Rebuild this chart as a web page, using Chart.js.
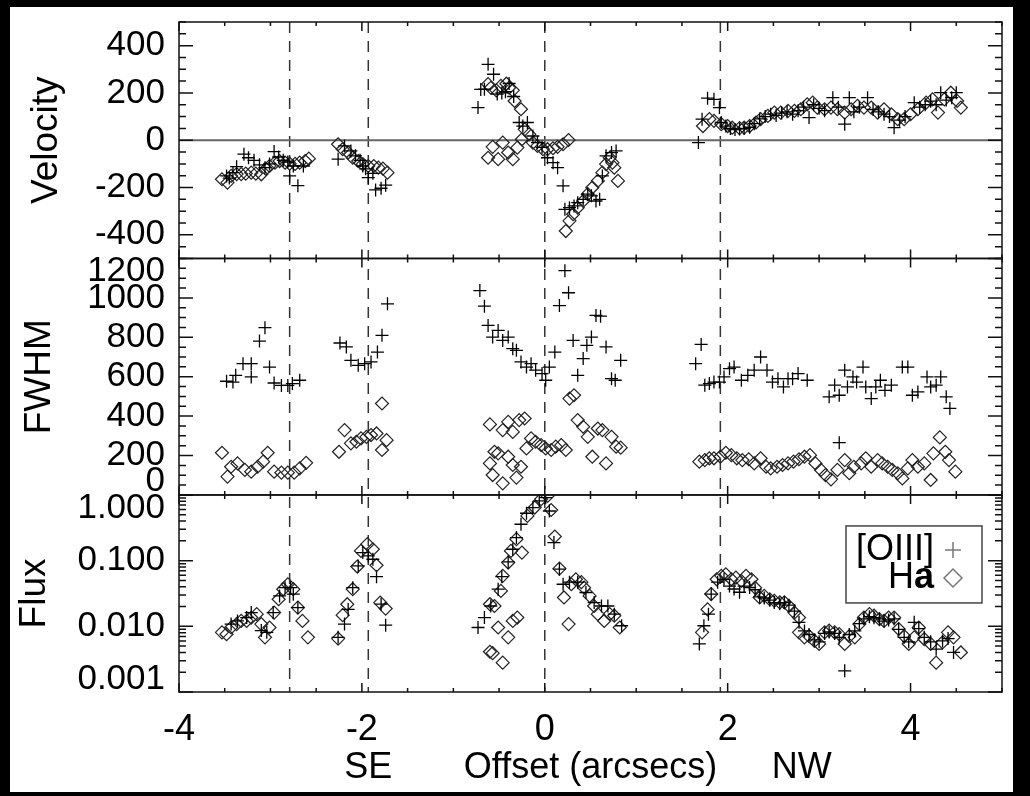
<!DOCTYPE html>
<html>
<head>
<meta charset="utf-8">
<script src="https://cdn.jsdelivr.net/npm/chart.js@4.4.1/dist/chart.umd.min.js"></script>
<style>
  html, body { margin: 0; padding: 0; background: #000; }
  #wrap { position: absolute; left: 10px; top: 7px; width: 1003px; height: 785px; background: #fff; }
</style>
</head>
<body>
<div id="wrap"><canvas id="c" width="1003" height="785"></canvas></div>
<script>
// [offset, value] pairs

// velocity, [OIII]
const velOiii = [
  [-3.48,-151],[-3.45,-160],[-3.41,-137],[-3.37,-112],[-3.29,-59],[-3.24,-74],[-3.18,-85],[-3.12,-104],
  [-3.06,-116],[-3.01,-100],[-2.96,-48],[-2.91,-71],[-2.86,-85],[-2.81,-92],[-2.79,-151],[-2.75,-109],
  [-2.70,-192],[-2.64,-109],
  [-2.26,-80],[-2.19,-24],[-2.12,-45],[-2.07,-66],[-2.02,-85],[-1.99,-109],[-1.96,-121],[-1.93,-158],
  [-1.88,-140],[-1.85,-210],[-1.79,-203],[-1.74,-190],
  [-0.73,138],[-0.70,215],[-0.66,216],[-0.62,321],[-0.56,279],[-0.52,195],[-0.47,200],[-0.43,205],
  [-0.39,240],[-0.34,185],[-0.28,75],[-0.24,60],[-0.19,75],[-0.13,18],[-0.08,-10],[-0.03,-30],
  [0.03,-74],[0.09,-95],[0.14,-116],[0.20,-193],
  [0.22,-292],[0.27,-285],[0.32,-278],[0.36,-264],[0.42,-250],[0.47,-228],[0.51,-235],[0.56,-257],
  [0.60,-250],[0.63,-151],[0.67,-66],[0.73,-52],[0.78,-45],
  [1.68,-10],[1.72,89],[1.78,178],[1.85,173],[1.91,138],[1.93,75],[1.98,60],[2.03,50],[2.08,45],
  [2.13,48],[2.18,50],[2.24,55],[2.29,70],[2.35,90],[2.41,100],[2.47,110],[2.53,105],[2.59,115],
  [2.65,120],[2.71,110],[2.77,125],[2.83,140],[2.89,96],[2.94,150],[3.00,135],[3.06,125],[3.15,180],
  [3.21,140],[3.28,68],[3.33,180],[3.38,120],[3.44,140],[3.53,180],[3.59,130],[3.65,120],[3.71,110],
  [3.77,100],[3.82,53],[3.88,85],[3.94,100],[4.04,159],[4.10,140],[4.16,150],[4.22,165],[4.28,150],
  [4.33,201],[4.39,170],[4.45,180],[4.50,201]
];

// velocity, Ha (main component)
const velHa = [
  [-3.53,-165],[-3.47,-179],[-3.43,-151],[-3.37,-143],[-3.32,-143],[-3.27,-141],[-3.21,-137],[-3.16,-141],
  [-3.10,-144],[-3.05,-121],[-3.01,-109],[-2.95,-95],[-2.90,-88],[-2.84,-95],[-2.79,-99],[-2.73,-100],
  [-2.68,-95],[-2.62,-88],[-2.58,-78],
  [-2.26,-17],[-2.21,-38],[-2.15,-52],[-2.10,-74],[-2.04,-88],[-1.99,-101],[-1.93,-109],[-1.87,-109],
  [-1.82,-116],[-1.77,-120],[-1.72,-137],
  [-0.62,237],[-0.59,222],[-0.53,211],[-0.48,230],[-0.42,239],[-0.39,222],[-0.35,211],[-0.33,166],
  [-0.26,131],[-0.22,46],[-0.17,25],[-0.13,-10],[-0.08,-24],[-0.02,-38],[0.03,-38],[0.09,-34],
  [0.14,-28],[0.20,-17],[0.26,1],
  [0.23,-384],[0.27,-341],[0.31,-313],[0.36,-285],[0.42,-257],[0.47,-228],[0.52,-200],[0.58,-172],
  [0.63,-137],[0.67,-101],[0.71,-74],[0.74,-95],[0.76,-116],[0.80,-172],
  [1.73,60],[1.80,89],[1.85,82],[1.93,68],[2.00,60],[2.05,53],[2.13,51],[2.18,53],[2.24,60],[2.31,75],
  [2.36,89],[2.44,103],[2.51,117],[2.58,117],[2.66,124],[2.73,124],[2.80,131],[2.87,152],[2.93,159],
  [2.98,138],[3.06,131],[3.13,138],[3.20,131],[3.28,117],[3.35,131],[3.42,145],[3.49,138],[3.57,138],
  [3.64,117],[3.71,131],[3.79,110],[3.86,89],[3.93,89],[4.00,110],[4.08,131],[4.17,159],[4.24,173],
  [4.30,117],[4.37,173],[4.44,201],[4.51,166],[4.55,138]
];

// velocity, Ha (second component near the nucleus)
const velHa2 = [
  [-0.62,-74],[-0.57,-28],[-0.51,-80],[-0.46,-10],[-0.40,-52],[-0.35,-80],[-0.30,-31],[-0.25,4]
];

// FWHM, [OIII]
const fwhmOiii = [
  [-3.48,577],[-3.41,573],[-3.38,607],[-3.30,666],[-3.21,666],[-3.21,599],[-3.12,781],[-3.06,849],
  [-3.01,649],[-2.96,568],[-2.88,556],[-2.81,556],[-2.76,565],[-2.68,582],
  [-2.24,771],[-2.17,751],[-2.12,683],[-2.04,658],[-1.97,666],[-1.90,675],[-1.83,725],[-1.78,810],
  [-1.72,970],
  [-0.71,1037],[-0.66,958],[-0.62,860],[-0.57,801],[-0.51,835],[-0.46,784],[-0.40,801],[-0.35,742],
  [-0.31,734],[-0.26,675],[-0.20,649],[-0.15,666],[-0.10,633],[-0.03,616],[0.01,582],[0.05,649],
  [0.11,725],[0.16,961],[0.22,1138],[0.26,1026],[0.31,784],[0.36,607],[0.42,692],[0.46,759],
  [0.51,801],[0.56,911],[0.61,907],[0.67,751],[0.73,590],[0.77,582],[0.83,683],
  [1.65,666],[1.71,764],[1.75,557],[1.80,565],[1.85,573],[1.91,573],[1.96,599],[2.02,641],[2.07,649],
  [2.15,582],[2.22,607],[2.29,633],[2.36,700],[2.43,633],[2.49,573],[2.55,590],[2.61,548],[2.66,590],
  [2.71,590],[2.77,616],[2.87,582],[3.11,498],[3.17,557],[3.22,506],[3.22,265],[3.28,633],[3.31,548],
  [3.37,599],[3.41,573],[3.48,649],[3.51,548],[3.57,489],[3.62,548],[3.67,582],[3.72,531],[3.79,557],
  [3.91,649],[3.97,649],[4.02,506],[4.08,523],[4.18,599],[4.22,548],[4.28,557],[4.33,599],[4.39,498],
  [4.43,439]
];

// FWHM, Ha
const fwhmHa = [
  [-3.53,214],[-3.47,93],[-3.43,143],[-3.36,160],[-3.28,127],[-3.21,118],[-3.14,143],[-3.08,169],
  [-3.03,214],[-2.96,118],[-2.88,113],[-2.81,113],[-2.74,113],[-2.68,135],[-2.61,163],
  [-2.25,219],[-2.19,329],[-2.12,262],[-2.06,270],[-2.01,287],[-1.95,295],[-1.90,304],[-1.84,312],
  [-1.78,464],[-1.78,228],[-1.73,278],
  [-0.60,358],[-0.55,219],[-0.51,211],[-0.60,160],[-0.57,101],[-0.46,59],[-0.46,329],[-0.40,371],
  [-0.35,320],[-0.40,194],[-0.35,152],[-0.31,88],[-0.26,143],[-0.28,380],[-0.22,388],[-0.20,236],
  [-0.15,287],[-0.10,270],[-0.04,253],[0.01,236],[0.07,228],[0.12,245],[0.18,253],[0.23,228],
  [0.27,489],[0.32,506],[0.36,380],[0.42,346],[0.47,295],[0.52,194],[0.58,337],[0.63,329],
  [0.67,160],[0.73,295],[0.78,245],[0.83,240],
  [1.69,169],[1.75,177],[1.80,186],[1.85,186],[1.92,194],[1.98,214],[2.04,202],[2.10,186],[2.16,177],
  [2.23,181],[2.29,160],[2.36,186],[2.42,143],[2.47,135],[2.54,143],[2.60,152],[2.66,160],[2.72,169],
  [2.78,181],[2.84,194],[2.90,202],[2.96,160],[3.02,127],[3.07,101],[3.13,79],[3.20,127],[3.28,177],
  [3.33,110],[3.38,143],[3.46,160],[3.51,186],[3.57,143],[3.64,177],[3.69,160],[3.75,143],[3.80,127],
  [3.86,110],[3.91,84],[3.97,135],[4.02,177],[4.08,143],[4.15,160],[4.22,76],[4.25,211],[4.32,292],
  [4.38,219],[4.42,177],[4.49,118]
];

// normalised flux, [OIII]
const fluxOiii = [
  [-3.43,0.0108],[-3.36,0.0121],[-3.26,0.0136],[-3.21,0.0162],[-3.10,0.0086],[-3.04,0.0081],
  [-2.97,0.0162],[-2.90,0.029],[-2.84,0.0387],[-2.78,0.0387],[-2.75,0.0308],[-2.70,0.0193],
  [-2.26,0.0068],[-2.19,0.0108],[-2.15,0.0181],[-2.10,0.0387],[-2.04,0.083],[-1.99,0.1325],
  [-1.93,0.118],[-1.88,0.105],[-1.84,0.057],[-1.79,0.0217],[-1.74,0.0104],
  [-0.73,0.0096],[-0.66,0.0136],[-0.59,0.0204],[-0.51,0.0367],[-0.47,0.057],[-0.40,0.0955],
  [-0.35,0.149],[-0.31,0.224],[-0.26,0.358],[-0.20,0.526],[-0.13,0.643],[-0.06,0.81],[0.01,0.91],
  [0.05,0.57],[0.10,0.188],[0.16,0.074],[0.20,0.0437],[0.27,0.047],[0.36,0.047],[0.45,0.0327],
  [0.54,0.023],[0.62,0.0204],[0.69,0.0204],[0.76,0.0153],[0.84,0.0102],
  [1.69,0.0054],[1.74,0.0102],[1.79,0.0153],[1.82,0.031],[1.89,0.047],[1.96,0.052],[2.02,0.041],
  [2.07,0.037],[2.13,0.033],[2.18,0.041],[2.24,0.039],[2.30,0.036],[2.35,0.028],[2.40,0.027],
  [2.46,0.025],[2.51,0.023],[2.57,0.022],[2.62,0.023],[2.67,0.021],[2.73,0.017],[2.78,0.0115],
  [2.84,0.0085],[2.89,0.0075],[2.95,0.0062],[3.00,0.0058],[3.06,0.0078],[3.11,0.0082],[3.17,0.0078],
  [3.22,0.0068],[3.28,0.0021],[3.33,0.0075],[3.39,0.0085],[3.44,0.011],[3.49,0.013],[3.55,0.014],
  [3.60,0.0135],[3.66,0.013],[3.71,0.012],[3.76,0.0125],[3.82,0.013],[3.87,0.009],[3.93,0.0068],
  [3.98,0.0058],[4.04,0.0115],[4.09,0.0092],[4.15,0.0068],[4.22,0.0058],[4.28,0.0045],[4.35,0.006],
  [4.41,0.0065],[4.47,0.004]
];

// normalised flux, Ha (main component)
const fluxHa = [
  [-3.53,0.0081],[-3.48,0.0076],[-3.43,0.0096],[-3.37,0.0108],[-3.32,0.0121],[-3.26,0.0121],
  [-3.21,0.0136],[-3.15,0.0153],[-3.10,0.0108],[-3.06,0.0068],[-3.01,0.0096],[-2.96,0.0162],
  [-2.91,0.0258],[-2.86,0.0367],[-2.81,0.0437],[-2.75,0.0367],[-2.70,0.0193],[-2.65,0.0121],
  [-2.59,0.0068],
  [-2.26,0.0065],[-2.21,0.0148],[-2.16,0.0217],[-2.10,0.0367],[-2.05,0.0813],[-2.01,0.1406],
  [-1.94,0.178],[-1.88,0.149],[-1.84,0.085],[-1.80,0.023],[-1.74,0.0186],
  [-0.60,0.0217],[-0.55,0.0204],[-0.48,0.0346],[-0.46,0.0587],[-0.40,0.0935],[-0.37,0.1406],
  [-0.31,0.212],[-0.25,0.1325],[-0.19,0.479],[-0.11,0.643],[-0.04,0.86],[0.03,0.965],[0.07,0.59],
  [0.11,0.233],[0.16,0.0757],[0.21,0.0275],[0.26,0.0108],[0.29,0.0437],[0.34,0.052],[0.40,0.047],
  [0.43,0.0387],[0.49,0.029],[0.54,0.0204],[0.58,0.0153],[0.65,0.0121],[0.71,0.0153],[0.76,0.0145],
  [0.82,0.0096],
  [1.72,0.0081],[1.78,0.0181],[1.82,0.031],[1.88,0.052],[1.93,0.0587],[1.98,0.062],[2.04,0.052],
  [2.09,0.055],[2.15,0.049],[2.20,0.0587],[2.26,0.052],[2.30,0.0387],[2.35,0.0275],[2.40,0.029],
  [2.46,0.0258],[2.51,0.0245],[2.57,0.0232],[2.62,0.0232],[2.67,0.0204],[2.73,0.0162],[2.78,0.0136],
  [2.78,0.0081],[2.84,0.0068],[2.89,0.0071],[2.95,0.006],[3.00,0.0054],[3.06,0.0081],[3.11,0.0086],
  [3.17,0.0081],[3.22,0.0076],[3.28,0.0054],[3.33,0.0071],[3.39,0.0068],[3.44,0.0108],[3.49,0.0136],
  [3.55,0.0153],[3.60,0.0145],[3.66,0.0128],[3.71,0.0121],[3.76,0.0136],[3.82,0.0136],[3.87,0.0091],
  [3.93,0.0071],[3.98,0.0054],[4.04,0.0068],[4.09,0.0096],[4.15,0.0064],[4.22,0.0054],[4.28,0.0028],
  [4.35,0.0057],[4.41,0.0081],[4.47,0.0068],[4.55,0.004]
];

// normalised flux, Ha (second component near the nucleus)
const fluxHa2 = [
  [-0.60,0.0041],[-0.57,0.0039],[-0.51,0.0096],[-0.46,0.0028],[-0.40,0.0068],[-0.35,0.0121],[-0.30,0.0136]
];

const xTicks = [-4, -2, 0, 2, 4];
const velTicks = [-400, -200, 0, 200, 400];
const fwhmTicks = [0, 200, 400, 600, 800, 1000, 1200];
const fluxTicks = [0.001, 0.01, 0.1, 1];
const markerLines = [-2.79, -1.93, 0, 1.92];

const FONT = '"Liberation Sans", Arial, Helvetica, sans-serif';
const pts = arr => arr.map(p => ({x: p[0], y: p[1]}));

function oiiiSet(data, axis) {
  return { data: pts(data), yAxisID: axis, pointStyle: 'cross', pointRadius: 6.5,
           borderColor: '#000', borderWidth: 1.3, backgroundColor: 'rgba(0,0,0,0)' };
}
function haSet(data, axis) {
  return { data: pts(data), yAxisID: axis, pointStyle: 'rectRot', pointRadius: 6.5,
           borderColor: '#222', borderWidth: 1.2, backgroundColor: 'rgba(0,0,0,0)' };
}

// no extra label padding, so the panels fill the area set by layout.padding
function noPad(s) { s.paddingTop = 0; s.paddingBottom = 0; s.paddingLeft = 0; s.paddingRight = 0; }

function yAxis(extra) {
  return Object.assign({
    position: 'left',
    stack: 'panels',
    grid: { display: false, drawTicks: false },
    border: { display: false },
    afterFit: s => { s.width = 169; noPad(s); }
  }, extra);
}

const panelIds = ['yVel', 'yFwhm', 'yFlux'];

// frames, inward ticks, dashed markers, zero line
const framePlugin = {
  id: 'frame',
  beforeDatasetsDraw(chart) {
    const {ctx, chartArea: a, scales} = chart;
    ctx.save();
    ctx.strokeStyle = '#333';
    ctx.lineWidth = 1.5;
    ctx.setLineDash([11, 8]);
    markerLines.forEach(v => {
      const px = scales.x.getPixelForValue(v);
      ctx.beginPath(); ctx.moveTo(px, a.top); ctx.lineTo(px, a.bottom); ctx.stroke();
    });
    ctx.setLineDash([]);
    const y0 = scales.yVel.getPixelForValue(0);
    ctx.strokeStyle = '#666';
    ctx.lineWidth = 2;
    ctx.beginPath(); ctx.moveTo(a.left, y0); ctx.lineTo(a.right, y0); ctx.stroke();
    ctx.restore();
  },
  afterDatasetsDraw(chart) {
    const {ctx, chartArea: a, scales} = chart;
    ctx.save();
    ctx.strokeStyle = '#111';
    ctx.lineWidth = 1.5;
    const xs = scales.x;
    panelIds.forEach(id => {
      const s = scales[id];
      ctx.strokeRect(a.left, s.top, a.right - a.left, s.bottom - s.top);
      let majors = [], minors = [];
      if (id === 'yVel') { majors = velTicks; for (let v = -500; v <= 500; v += 50) minors.push(v); }
      if (id === 'yFwhm') { majors = fwhmTicks; for (let v = 0; v <= 1200; v += 50) minors.push(v); }
      if (id === 'yFlux') {
        majors = fluxTicks;
        [0.001, 0.01, 0.1].forEach(d => { for (let k = 2; k < 10; k++) minors.push(k * d); });
      }
      ctx.beginPath();
      minors.forEach(v => {
        const py = s.getPixelForValue(v);
        ctx.moveTo(a.left, py); ctx.lineTo(a.left + 7, py);
        ctx.moveTo(a.right, py); ctx.lineTo(a.right - 7, py);
      });
      majors.forEach(v => {
        const py = s.getPixelForValue(v);
        ctx.moveTo(a.left, py); ctx.lineTo(a.left + 14, py);
        ctx.moveTo(a.right, py); ctx.lineTo(a.right - 14, py);
      });
      for (let v = -4; v <= 5; v += 0.5) {
        const px = xs.getPixelForValue(v);
        const len = xTicks.includes(v) ? 9 : 4;
        ctx.moveTo(px, s.top); ctx.lineTo(px, s.top + len);
        ctx.moveTo(px, s.bottom); ctx.lineTo(px, s.bottom - len);
      }
      ctx.stroke();
    });
    ctx.restore();
  },
  afterDraw(chart) {
    const {ctx, chartArea: a, scales} = chart;
    ctx.save();
    // SE / NW either side of the axis title
    ctx.fillStyle = '#000';
    ctx.font = '36px ' + FONT;
    ctx.textAlign = 'center';
    ctx.textBaseline = 'middle';
    const ty = scales.x.bottom - 36 * 1.2 / 2 - 2;
    ctx.fillText('SE', scales.x.getPixelForValue(-1.93), ty);
    ctx.fillText('NW', scales.x.getPixelForValue(2.81), ty);

    // legend box inside the flux panel
    const fs = scales.yFlux;
    const bx = a.right - 156, by = fs.top + 31, bw = 136, bh = 77;
    ctx.fillStyle = '#fff';
    ctx.fillRect(bx, by, bw, bh);
    ctx.strokeStyle = '#444';
    ctx.lineWidth = 1.5;
    ctx.strokeRect(bx, by, bw, bh);
    const textRight = bx + 88, symX = bx + 107;
    ctx.fillStyle = '#000';
    ctx.textAlign = 'right';
    ctx.font = '36px ' + FONT;
    ctx.fillText('[OIII]', textRight, by + 24);
    ctx.font = 'bold 36px ' + FONT;
    const aw = ctx.measureText('a').width;
    ctx.fillText('a', textRight, by + 52);
    ctx.font = '36px ' + FONT;
    ctx.fillText('H', textRight - aw, by + 52);
    ctx.fillStyle = 'rgba(0,0,0,0)';
    ctx.strokeStyle = '#777';
    Chart.helpers.drawPoint(ctx, { pointStyle: 'cross', radius: 8, borderWidth: 1.3 }, symX, by + 24);
    Chart.helpers.drawPoint(ctx, { pointStyle: 'rectRot', radius: 9, borderWidth: 1.3 }, symX, by + 52);
    ctx.restore();
  }
};

new Chart(document.getElementById('c'), {
  type: 'scatter',
  data: {
    datasets: [
      oiiiSet(velOiii, 'yVel'), haSet(velHa, 'yVel'), haSet(velHa2, 'yVel'),
      oiiiSet(fwhmOiii, 'yFwhm'), haSet(fwhmHa, 'yFwhm'),
      oiiiSet(fluxOiii, 'yFlux'), haSet(fluxHa, 'yFlux'), haSet(fluxHa2, 'yFlux')
    ]
  },
  options: {
    responsive: false,
    animation: false,
    devicePixelRatio: 1,
    layout: { padding: { left: 0, right: 11, top: 15, bottom: 0 } },
    plugins: { legend: { display: false }, tooltip: { enabled: false } },
    scales: {
      x: {
        type: 'linear', position: 'bottom', min: -4, max: 5,
        afterBuildTicks: s => { s.ticks = xTicks.map(v => ({value: v})); },
        afterFit: s => { s.height = 100; noPad(s); },
        grid: { display: false, drawTicks: false },
        border: { display: false },
        ticks: { font: { family: FONT, size: 36 }, color: '#000', padding: 16, maxRotation: 0,
                 autoSkip: false, callback: v => String(v) },
        title: { display: true, text: 'Offset (arcsecs)', color: '#000',
                 font: { family: FONT, size: 36 }, padding: { top: 0, bottom: 2 } }
      },
      yVel: yAxis({
        type: 'linear', min: -500, max: 500, stackWeight: 1.2, weight: 3,
        afterBuildTicks: s => { s.ticks = velTicks.map(v => ({value: v})); },
        ticks: { font: { family: FONT, size: 35 }, color: '#000', padding: 14, autoSkip: false,
                 callback: v => String(v) },
        title: { display: true, text: 'Velocity', color: '#000', font: { family: FONT, size: 37 },
                 padding: { top: 15, bottom: 0 } }
      }),
      yFwhm: yAxis({
        type: 'linear', min: 0, max: 1200, stackWeight: 1.2, weight: 2,
        afterBuildTicks: s => { s.ticks = fwhmTicks.map(v => ({value: v})); },
        ticks: { font: { family: FONT, size: 35, lineHeight: 0.75 }, color: '#000', padding: 14, autoSkip: false,
                 callback: v => v === 1200 ? ['', '1200'] : (v === 0 ? ['0', ''] : String(v)) },
        title: { display: true, text: 'FWHM', color: '#000', font: { family: FONT, size: 37 },
                 padding: { top: 8, bottom: 0 } }
      }),
      yFlux: yAxis({
        type: 'logarithmic', min: 0.001, max: 1, stackWeight: 1.0, weight: 1,
        afterBuildTicks: s => { s.ticks = fluxTicks.map(v => ({value: v})); },
        ticks: { font: { family: FONT, size: 35, lineHeight: 0.75 }, color: '#000', padding: 14, autoSkip: false,
                 callback: v => v === 1 ? ['', '1.000'] : (v === 0.001 ? ['0.001', ''] : v.toFixed(3)) },
        title: { display: true, text: 'Flux', color: '#000', font: { family: FONT, size: 37 },
                 padding: { top: 3, bottom: 0 } }
      })
    }
  },
  plugins: [framePlugin]
});
</script>
</body>
</html>
